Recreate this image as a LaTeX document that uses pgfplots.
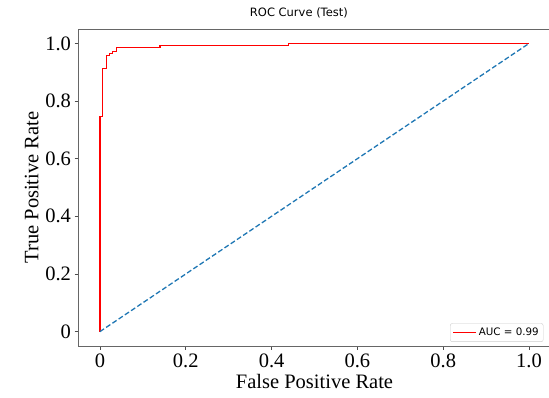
\documentclass[border=0pt]{standalone}
\usepackage{fontspec}
\setmainfont{Liberation Serif}
\newfontfamily\dejavu{DejaVu Sans}
\usepackage{pgfplots}
\pgfplotsset{compat=1.18}
\definecolor{mplblue}{HTML}{1F77B4}
\begin{document}
\begin{tikzpicture}[x=1pt,y=1pt]
\useasboundingbox (0,0) rectangle (549,398);
\begin{axis}[
  at={(78.5pt,52pt)}, anchor=south west,
  scale only axis, width=472pt, height=317pt,
  xmin=-0.05, xmax=1.05, ymin=-0.05, ymax=1.05,
  xtick={0,0.2,0.4,0.6,0.8,1.0}, xticklabels={0,0.2,0.4,0.6,0.8,1.0},
  ytick={0,0.2,0.4,0.6,0.8,1.0}, yticklabels={0,0.2,0.4,0.6,0.8,1.0},
  tick align=outside, tick pos=left,
  major tick length=4pt,
  tick style={black!70, line width=0.8pt},
  axis line style={black!60, line width=0.8pt},
  ticklabel style={font=\fontsize{20.5}{20}\selectfont},
  xlabel={False Positive Rate}, ylabel={True Positive Rate},
  label style={font=\fontsize{20.5}{22}\selectfont},
  title={ROC Curve (Test)},
  title style={font=\dejavu\fontsize{11.5}{13}\selectfont, at={(axis description cs:0.467,1)}, anchor=base, yshift=6pt},
  legend style={at={(0.985,0.013)}, anchor=south east, font=\dejavu\fontsize{10.3}{12}\selectfont, draw=black!20, rounded corners=2pt, inner sep=2.5pt},
  legend cell align=left,
  legend image code/.code={\draw[#1] (0cm,0cm) -- (0.8cm,0cm);},
]
\addplot[red, line width=1.3pt, const plot, forget plot=false] coordinates {
(0,0) (0,0.746) (0.006,0.746) (0.006,0.914) (0.0155,0.914) (0.0155,0.957)
(0.022,0.957) (0.022,0.964) (0.029,0.964) (0.029,0.973) (0.039,0.973) (0.039,0.985)
(0.14,0.985) (0.14,0.993) (0.439,0.993) (0.439,1.0) (1.0,1.0)
};
\addlegendentry{AUC = 0.99}
\addplot[mplblue, line width=1.3pt, dash pattern=on 5pt off 2.5pt, forget plot] coordinates {(0,0) (1,1)};
\end{axis}
\end{tikzpicture}
\end{document}
